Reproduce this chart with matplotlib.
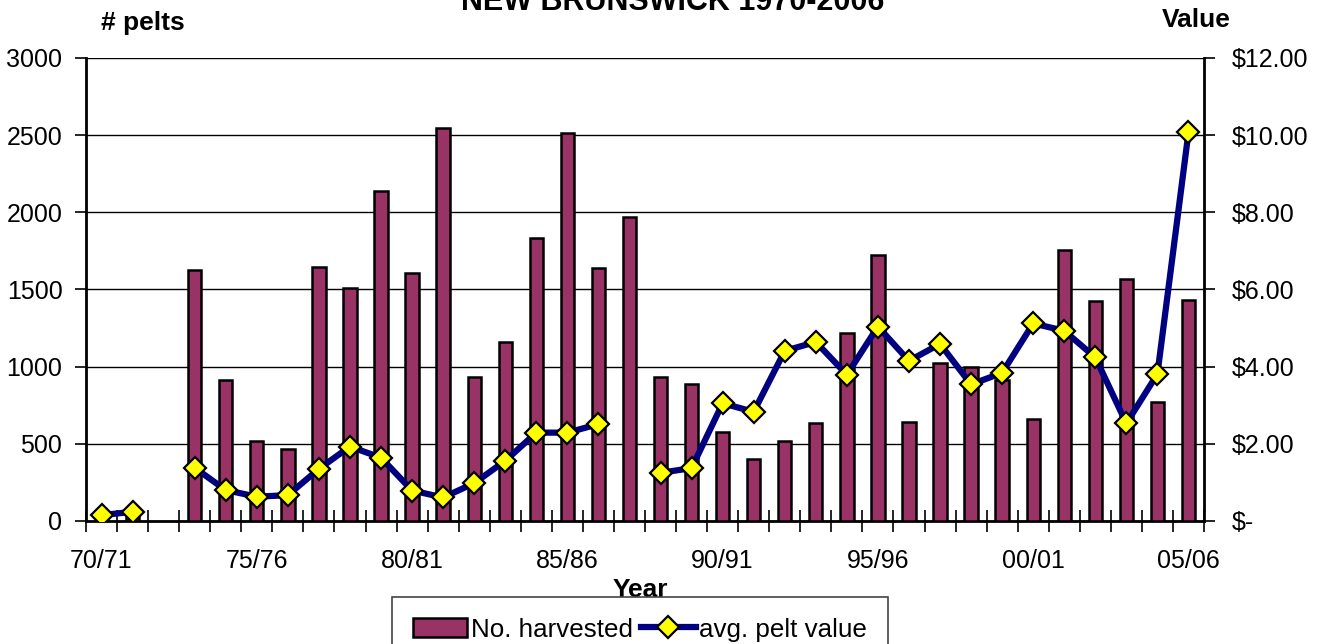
import numpy as np
import matplotlib
matplotlib.use("Agg")
import matplotlib.pyplot as plt
from matplotlib.lines import Line2D
from matplotlib.patches import Patch

plt.rcParams['font.family'] = ['Liberation Sans', 'DejaVu Sans']

seasons = ["70/71", "71/72", "72/73", "73/74", "74/75", "75/76", "76/77", "77/78",
           "78/79", "79/80", "80/81", "81/82", "82/83", "83/84", "84/85", "85/86",
           "86/87", "87/88", "88/89", "89/90", "90/91", "91/92", "92/93", "93/94",
           "94/95", "95/96", "96/97", "97/98", "98/99", "99/00", "00/01", "01/02",
           "02/03", "03/04", "04/05", "05/06"]

# number of pelts harvested (nan = no data)
harvested = [np.nan, 50, np.nan, 1626, 914, 520, 464, 1644, 1512, 2140, 1605, 2545,
             931, 1162, 1836, 2512, 1641, 1972, 931, 888, 579, 404, 516, 637,
             1216, 1721, 641, 1026, 1000, 914, 659, 1754, 1426, 1568, 769, 1432]

# average pelt value ($)
pelt_value = [0.15, 0.24, np.nan, 1.38, 0.80, 0.63, 0.67, 1.35, 1.93, 1.64, 0.79, 0.61,
              0.98, 1.56, 2.29, 2.29, 2.51, np.nan, 1.25, 1.37, 3.05, 2.83, 4.41, 4.64,
              3.79, 5.04, 4.15, 4.59, 3.54, 3.84, 5.12, 4.93, 4.24, 2.53, 3.81, 10.07]

left_ticks = [0, 500, 1000, 1500, 2000, 2500, 3000]
right_ticks = [0, 2, 4, 6, 8, 10, 12]
right_labels = ["$-", "$2.00", "$4.00", "$6.00", "$8.00", "$10.00", "$12.00"]

bar_color = "#993366"
line_color = "#000080"

fig = plt.figure(figsize=(13.3, 6.44), dpi=100)
ax = fig.add_axes([86 / 1330, 123 / 644, 1118 / 1330, 463 / 644])
x = np.arange(len(seasons))

ax.bar(x, harvested, width=0.43, color=bar_color, edgecolor="black", linewidth=1.8, zorder=3)
ax.set_xlim(-0.5, len(seasons) - 0.5)
ax.set_ylim(0, 3000)
ax.set_yticks(left_ticks)
ax.yaxis.grid(True, color="black", linewidth=1.0, zorder=0)
ax.set_axisbelow(True)

ax.set_xticks(x[::5])
ax.set_xticklabels(seasons[::5])
ax.set_xticks(np.arange(-0.5, len(seasons)), minor=True)
ax.tick_params(axis="x", which="major", length=0, pad=20, labelsize=18)
ax.tick_params(axis="x", which="minor", direction="inout", length=16, width=1.2)
ax.tick_params(axis="y", length=8, width=1.2, pad=9, labelsize=18)

for s in ["top", "right"]:
    ax.spines[s].set_visible(False)
for s in ["left", "bottom"]:
    ax.spines[s].set_linewidth(2)

ax2 = ax.twinx()
ax2.plot(x, pelt_value, color=line_color, linewidth=4.5, marker="D", markersize=11,
         markerfacecolor="yellow", markeredgecolor="black", markeredgewidth=1.6, zorder=4)
ax2.set_ylim(0, 12)
ax2.set_yticks(right_ticks)
ax2.set_yticklabels(right_labels)
ax2.tick_params(axis="y", length=8, width=1.2, pad=12, labelsize=18)
for s in ["top", "left", "bottom"]:
    ax2.spines[s].set_visible(False)
ax2.spines["right"].set_linewidth(2)

fig.text(673 / 1330, 1 - 10 / 644, "NEW BRUNSWICK 1970-2006", ha="center", va="baseline",
         fontsize=22, fontweight="bold")
fig.text(142.5 / 1330, 1 - 30 / 644, "# pelts", ha="center", va="baseline",
         fontsize=19, fontweight="bold")
fig.text(1196 / 1330, 1 - 26.7 / 644, "Value", ha="center", va="baseline",
         fontsize=19, fontweight="bold")
fig.text(640 / 1330, 1 - 597 / 644, "Year", ha="center", va="baseline",
         fontsize=19, fontweight="bold")

handles = [Patch(facecolor=bar_color, edgecolor="black", linewidth=1.8),
           Line2D([], [], color=line_color, linewidth=4.5, marker="D", markersize=11,
                  markerfacecolor="yellow", markeredgecolor="black", markeredgewidth=1.6)]
leg = fig.legend(handles, ["No. harvested", "avg. pelt value"], loc="upper center",
                 bbox_to_anchor=(640 / 1330, 1 - 597 / 644), ncol=2, fontsize=18.7,
                 frameon=True, fancybox=False, framealpha=1, edgecolor="#444444",
                 borderpad=0.8, handlelength=2.1, handleheight=0.75,
                 handletextpad=0.15, columnspacing=0.3, borderaxespad=0)
leg.get_frame().set_linewidth(1.2)

fig.savefig("out.png", dpi=100)
